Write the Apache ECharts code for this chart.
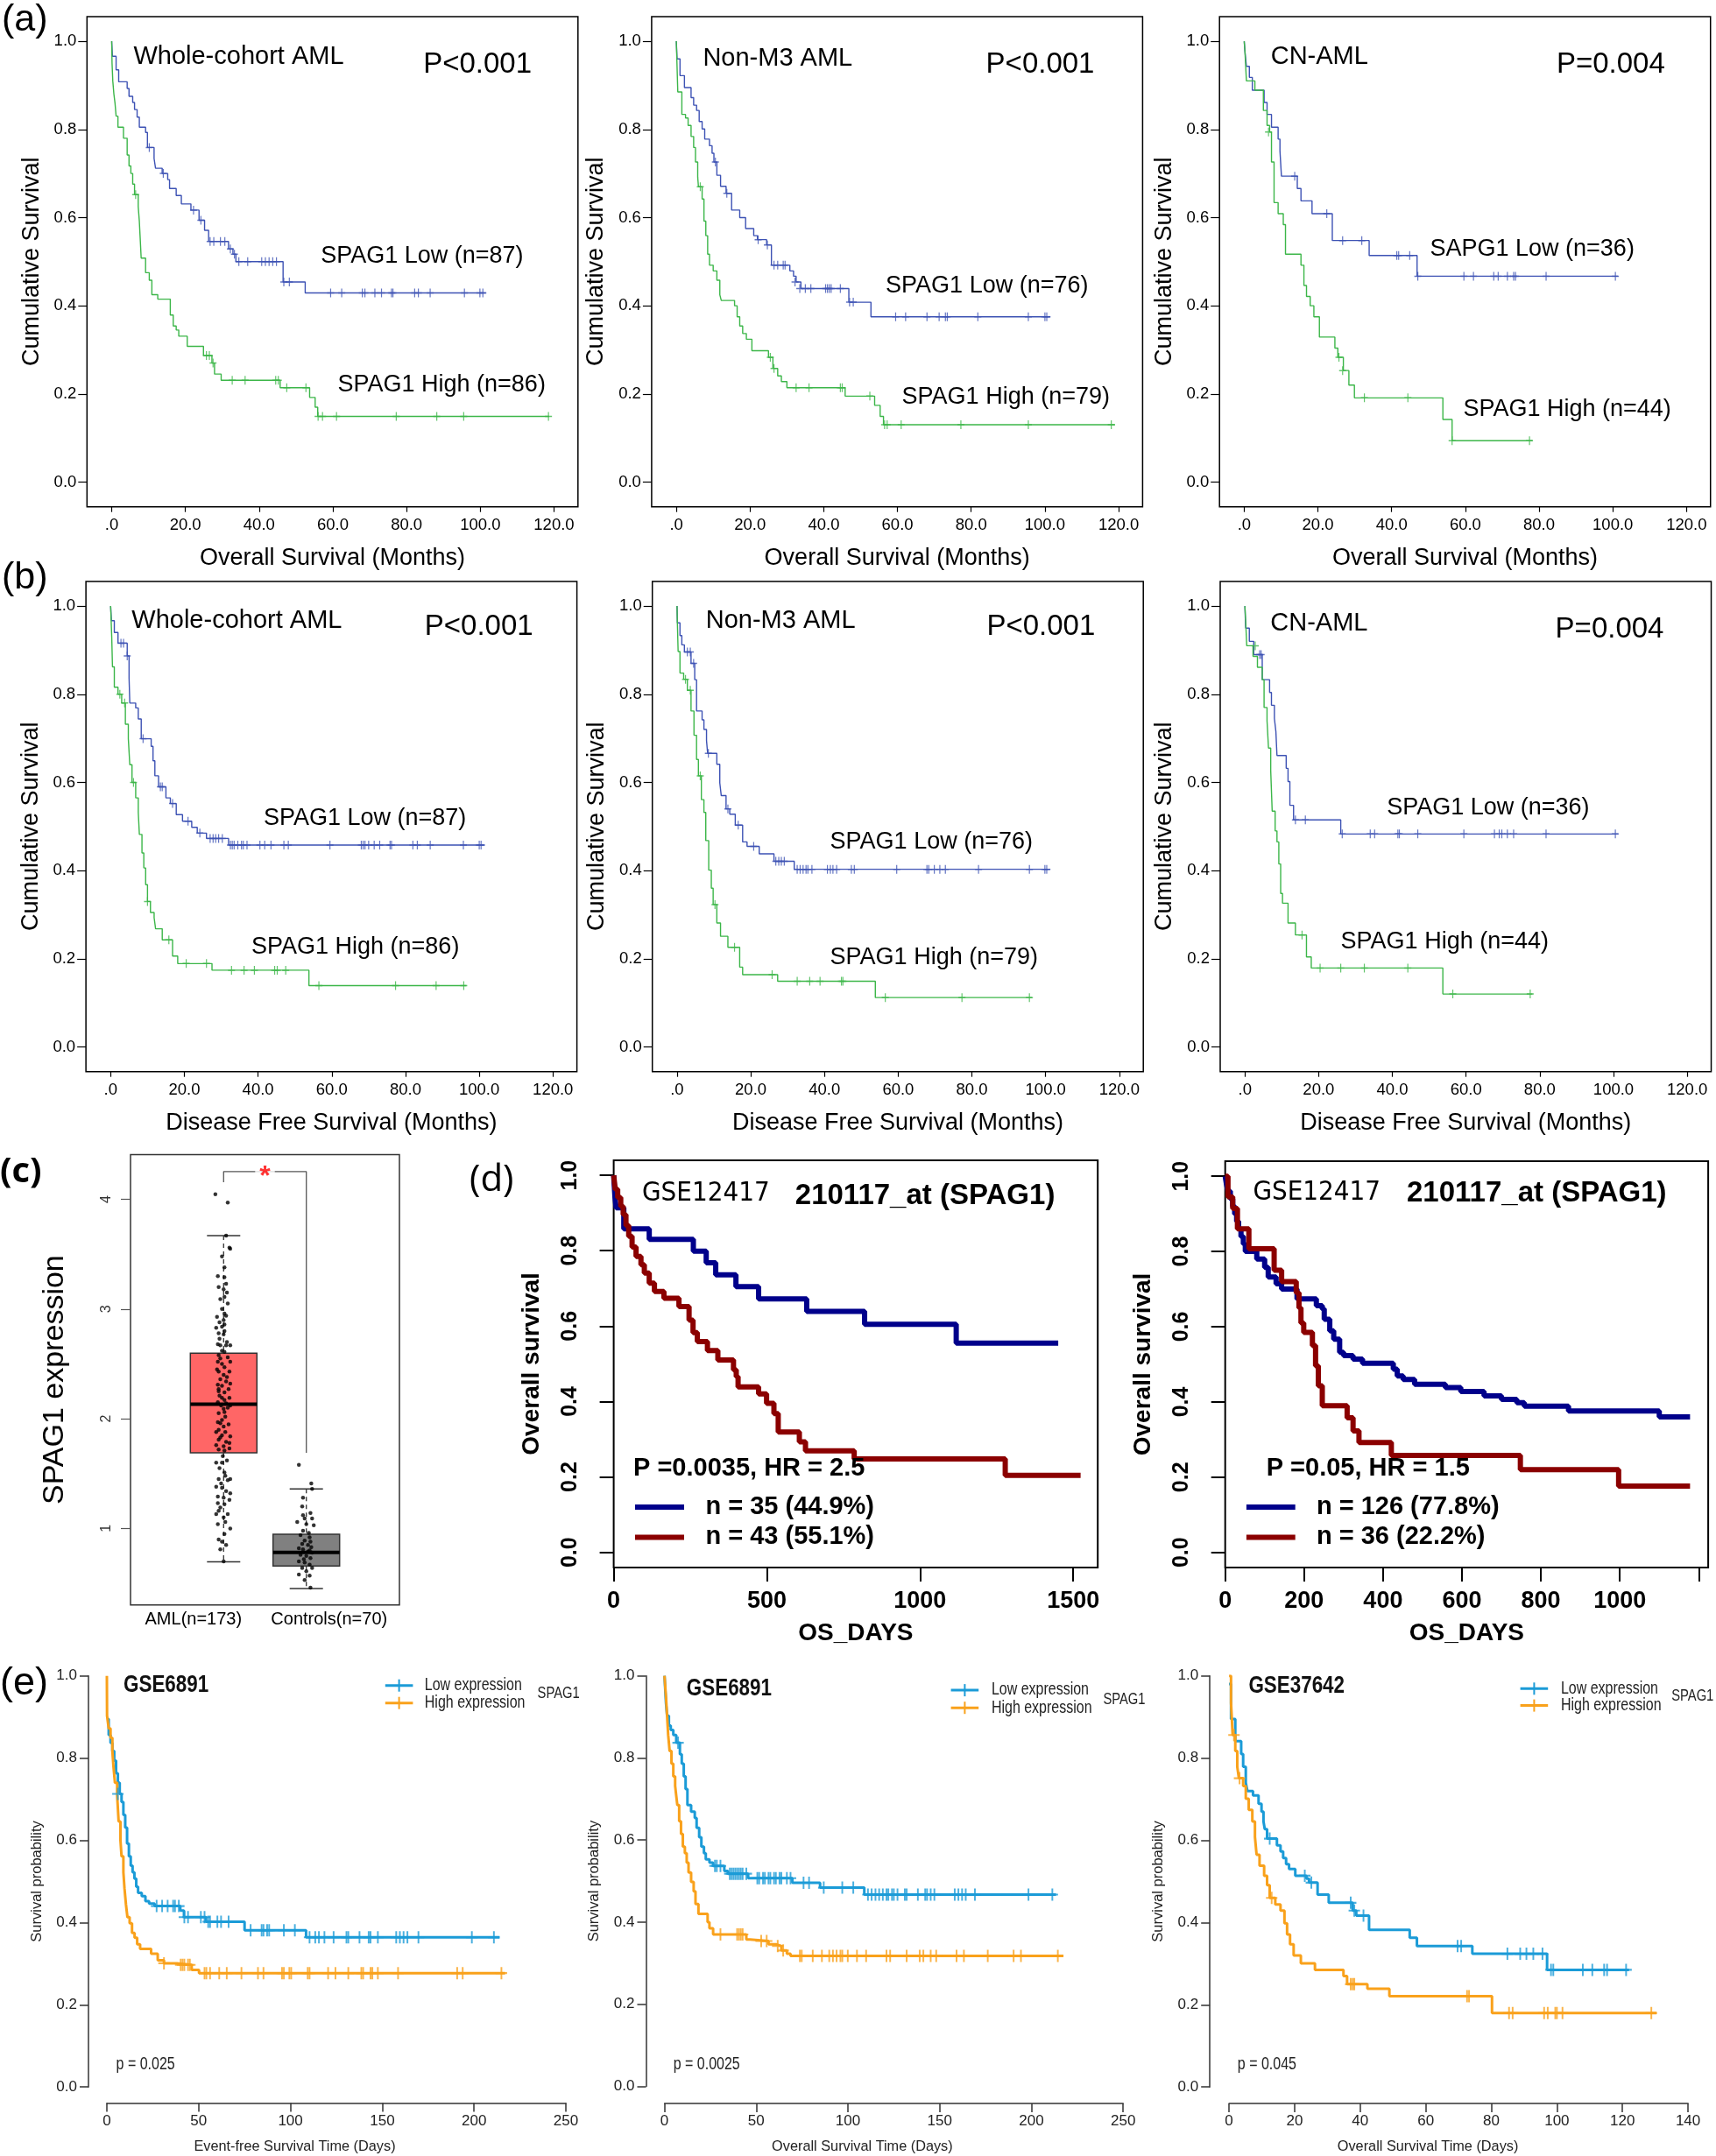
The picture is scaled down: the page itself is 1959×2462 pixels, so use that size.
<!DOCTYPE html>
<html><head><meta charset="utf-8">
<script src="https://cdn.jsdelivr.net/npm/echarts@6.0.0/dist/echarts.min.js"></script>
<style>html,body{margin:0;padding:0;background:#fff}#c{width:1959px;height:2462px}</style>
</head><body><div id="c"></div>
<script>
// ---------------- DATA ----------------
const spssXTicks = [0,20,40,60,80,100,120];
const survYTicks = [0,0.2,0.4,0.6,0.8,1.0];
const dLeftXTicks = [0,500,1000,1500];
const dRightXTicks = [0,200,400,600,800,1000,1200];
const dRightXLabels = [0,200,400,600,800,1000];
const boxYTicks = [1,2,3,4];

// (a) Overall survival, months
const a1Low = [[0,1],[0.2,0.966],[1.2,0.935],[1.9,0.908],[4.2,0.893],[4.7,0.875],[5.7,0.861],[6.2,0.845],[6.9,0.828],[7.5,0.805],[9.2,0.793],[9.7,0.759],[11.5,0.734],[11.9,0.712],[13.7,0.70],[15.2,0.686],[15.7,0.666],[17.5,0.65],[18.9,0.631],[21.5,0.617],[23.7,0.594],[25.2,0.571],[26.3,0.546],[31.7,0.529],[32.9,0.517],[33.7,0.50],[46.5,0.454],[52.5,0.429],[101.5,0.429]];
const a1LowCens = [[10.2,0.759],[14.0,0.70],[22.2,0.617],[24.2,0.594],[26.7,0.546],[27.7,0.546],[29.5,0.546],[30.7,0.546],[32.2,0.529],[33.3,0.517],[34.5,0.50],[36.9,0.50],[40.7,0.50],[41.7,0.50],[42.7,0.50],[43.7,0.50],[44.7,0.50],[46.7,0.454],[48.2,0.454],[59.4,0.429],[62.4,0.429],[68,0.429],[68.7,0.429],[71.4,0.429],[73.2,0.429],[75.9,0.429],[76.3,0.429],[82.2,0.429],[83.2,0.429],[86.4,0.429],[95.7,0.429],[99.9,0.429],[100.7,0.429]];
const a1High = [[0,1],[0.1,0.95],[0.3,0.91],[0.6,0.88],[0.9,0.86],[1.2,0.83],[1.7,0.805],[3.2,0.78],[4.2,0.742],[4.7,0.717],[5.2,0.70],[5.7,0.676],[6.2,0.652],[7.2,0.625],[7.5,0.592],[7.7,0.559],[8.0,0.508],[9.2,0.475],[10.2,0.458],[10.9,0.425],[12.5,0.415],[15.9,0.379],[16.7,0.354],[17.5,0.345],[18.2,0.331],[20.5,0.308],[24.9,0.287],[27.2,0.27],[27.9,0.245],[29.7,0.231],[45.7,0.214],[53.7,0.192],[55.2,0.17],[55.9,0.149],[118.7,0.149]];
const a1HighCens = [[6.5,0.652],[25.7,0.287],[26.5,0.287],[27.5,0.27],[32.7,0.231],[36.2,0.231],[44.5,0.231],[45.2,0.231],[47.5,0.214],[52.7,0.214],[56.0,0.149],[57.2,0.149],[61.0,0.149],[77.2,0.149],[88.2,0.149],[95.5,0.149],[118.5,0.149]];

const a2Low = [[0,1],[0.2,0.96],[1.0,0.922],[2.2,0.895],[4.0,0.872],[4.7,0.855],[5.5,0.843],[6.2,0.818],[7.0,0.801],[7.7,0.778],[9.0,0.763],[9.7,0.746],[10.2,0.726],[11.0,0.696],[12.0,0.671],[13.5,0.655],[15.0,0.617],[17.2,0.60],[18.8,0.575],[21.0,0.559],[22.0,0.55],[24.5,0.538],[25.8,0.492],[30.8,0.479],[31.8,0.467],[32.5,0.454],[33.8,0.439],[46.8,0.408],[52.8,0.375],[101.5,0.375]];
const a2LowCens = [[10.6,0.726],[13.7,0.655],[22.2,0.55],[24.7,0.538],[26.5,0.492],[27.5,0.492],[29,0.492],[29.5,0.492],[32.2,0.454],[33.5,0.439],[35,0.439],[36.5,0.439],[40.5,0.439],[41,0.439],[41.5,0.439],[42,0.439],[44.5,0.439],[47,0.408],[48,0.408],[59.5,0.375],[62.2,0.375],[68,0.375],[71.3,0.375],[73,0.375],[73.5,0.375],[81.8,0.375],[95.5,0.375],[100,0.375],[100.5,0.375]];
const a2High = [[0,1],[0.4,0.885],[1.5,0.834],[2.5,0.826],[3.2,0.809],[4.0,0.784],[4.7,0.759],[5.2,0.726],[5.8,0.692],[6.0,0.67],[7.0,0.642],[7.5,0.592],[8.0,0.559],[8.5,0.517],[9.0,0.492],[10.0,0.479],[11.0,0.458],[11.8,0.425],[12.2,0.412],[15.8,0.40],[16.5,0.375],[17.2,0.354],[18.0,0.337],[19.0,0.324],[20.5,0.298],[25.0,0.283],[26.2,0.258],[27.5,0.241],[28.5,0.228],[30.0,0.214],[45.8,0.195],[53.8,0.174],[55.3,0.149],[56.2,0.13],[119,0.13]];
const a2HighCens = [[6.5,0.67],[25.5,0.283],[26.5,0.258],[32.5,0.214],[36,0.214],[44.5,0.214],[45,0.214],[52.5,0.195],[56.5,0.13],[57.2,0.13],[61,0.13],[77.2,0.13],[95.5,0.13],[118,0.13]];

const a3Low = [[0,1],[0.2,0.977],[0.6,0.943],[1.4,0.918],[2.2,0.889],[5.4,0.861],[6.2,0.834],[7.4,0.805],[9.2,0.778],[9.7,0.751],[10.1,0.694],[14.4,0.666],[15.4,0.638],[18.4,0.609],[23.9,0.548],[33.9,0.514],[46.9,0.467],[101.4,0.467]];
const a3LowCens = [[13.7,0.694],[22.4,0.609],[26.7,0.548],[31.9,0.548],[41.4,0.514],[41.9,0.514],[44.9,0.514],[47.1,0.467],[59.6,0.467],[62.2,0.467],[67.7,0.467],[68.9,0.467],[71.4,0.467],[73.1,0.467],[73.6,0.467],[81.9,0.467],[100.7,0.467]];
const a3High = [[0,1],[0.2,0.977],[0.6,0.91],[2.9,0.889],[5.2,0.843],[6.2,0.809],[6.9,0.794],[7.4,0.726],[8.1,0.634],[9.2,0.609],[10.6,0.584],[11.2,0.517],[15.4,0.492],[16.2,0.446],[16.9,0.421],[17.9,0.40],[18.9,0.375],[20.4,0.329],[24.6,0.304],[25.4,0.283],[26.9,0.253],[28.4,0.22],[29.9,0.191],[53.9,0.142],[56.4,0.094],[78.2,0.094]];
const a3HighCens = [[6.6,0.794],[25.7,0.283],[26.7,0.253],[32.6,0.191],[44.4,0.191],[56.4,0.094],[77.4,0.094]];

// (b) Disease free survival, months
const b1Low = [[0,1],[0.2,0.967],[1.0,0.94],[2.0,0.916],[4.5,0.887],[5.0,0.837],[5.2,0.78],[6.8,0.769],[7.5,0.744],[8.3,0.699],[11.0,0.682],[11.5,0.649],[12.0,0.615],[13.0,0.59],[15.0,0.565],[16.2,0.552],[17.8,0.527],[19.5,0.512],[22.0,0.498],[23.5,0.485],[26.0,0.473],[32.0,0.458],[101.5,0.458]];
const b1LowCens = [[2.8,0.916],[3.5,0.916],[4.5,0.887],[8.8,0.699],[13.5,0.59],[14.0,0.59],[16.8,0.552],[21.0,0.512],[24.2,0.485],[27,0.473],[27.8,0.473],[28.5,0.473],[29.3,0.473],[30.3,0.473],[32.5,0.458],[33,0.458],[33.5,0.458],[34.5,0.458],[35.5,0.458],[36,0.458],[37,0.458],[40.5,0.458],[41.8,0.458],[43.5,0.458],[47,0.458],[48.2,0.458],[59.5,0.458],[68,0.458],[68.5,0.458],[69,0.458],[70,0.458],[71.5,0.458],[73,0.458],[75.8,0.458],[76.2,0.458],[82,0.458],[83.2,0.458],[86.7,0.458],[95.7,0.458],[100,0.458],[100.5,0.458]];
const b1High = [[0,1],[0.3,0.93],[0.5,0.862],[1.0,0.816],[2.0,0.80],[3.0,0.78],[4.0,0.732],[4.8,0.699],[5.2,0.64],[5.8,0.60],[6.8,0.565],[7.5,0.532],[7.8,0.482],[8.5,0.44],[9.0,0.406],[9.5,0.368],[10.0,0.33],[10.8,0.305],[11.8,0.293],[12.2,0.268],[14.0,0.243],[16.8,0.206],[18.2,0.189],[27.5,0.174],[53.8,0.139],[96.5,0.139]];
const b1HighCens = [[2.5,0.80],[3.8,0.78],[6.2,0.60],[10.0,0.33],[15.8,0.243],[20.5,0.189],[26.0,0.189],[32.8,0.174],[36.2,0.174],[39.0,0.174],[44.5,0.174],[45.2,0.174],[47.5,0.174],[56.5,0.139],[77.3,0.139],[88.3,0.139],[95.8,0.139]];

const b2Low = [[0,1],[0.1,0.962],[0.8,0.933],[1.3,0.912],[2.0,0.896],[3.8,0.87],[4.8,0.833],[5.3,0.762],[6.8,0.742],[7.3,0.72],[8.0,0.695],[8.3,0.666],[10.8,0.641],[11.6,0.599],[12.0,0.57],[13.3,0.54],[14.3,0.528],[15.8,0.503],[17.8,0.465],[19.0,0.455],[22.3,0.438],[26.3,0.421],[31.8,0.403],[101.3,0.403]];
const b2LowCens = [[2.8,0.896],[3.6,0.896],[4.5,0.87],[8.5,0.666],[13.8,0.54],[16.6,0.503],[20.8,0.455],[26.8,0.421],[27.6,0.421],[28.3,0.421],[29.1,0.421],[32.6,0.403],[33.4,0.403],[34.2,0.403],[35,0.403],[35.5,0.403],[36.6,0.403],[40.8,0.403],[41.6,0.403],[42.3,0.403],[43.3,0.403],[47.3,0.403],[48.1,0.403],[59.6,0.403],[67.8,0.403],[68.3,0.403],[69.8,0.403],[71.3,0.403],[72.8,0.403],[81.8,0.403],[95.6,0.403],[99.8,0.403],[100.3,0.403]];
const b2High = [[0,1],[0.1,0.96],[0.3,0.897],[0.8,0.848],[1.8,0.834],[2.8,0.809],[3.8,0.762],[4.6,0.707],[5.3,0.652],[5.8,0.615],[6.6,0.561],[7.3,0.532],[7.8,0.468],[8.6,0.401],[9.3,0.36],[9.8,0.323],[10.8,0.281],[11.8,0.251],[13.8,0.226],[17.0,0.181],[17.8,0.164],[27.3,0.149],[53.8,0.112],[96.3,0.112]];
const b2HighCens = [[2.3,0.834],[3.6,0.809],[6.3,0.615],[10.3,0.323],[15.6,0.226],[25.8,0.164],[32.6,0.149],[36,0.149],[38.8,0.149],[44.6,0.149],[45,0.149],[56.5,0.112],[77.3,0.112],[95.6,0.112]];

const b3Low = [[0,1],[0.2,0.95],[1.2,0.92],[2.4,0.89],[4.7,0.833],[6.7,0.804],[7.2,0.775],[8.0,0.745],[8.4,0.716],[8.7,0.661],[11.2,0.632],[11.7,0.602],[12.2,0.548],[13.2,0.515],[26.0,0.483],[101.2,0.483]];
const b3LowCens = [[4.0,0.89],[4.4,0.89],[13.7,0.515],[16.4,0.515],[26.4,0.483],[34,0.483],[35.2,0.483],[41.5,0.483],[41.9,0.483],[46.9,0.483],[59.4,0.483],[67.7,0.483],[69,0.483],[69.7,0.483],[71.2,0.483],[72.9,0.483],[81.7,0.483],[100.5,0.483]];
const b3High = [[0,1],[0.2,0.967],[0.5,0.91],[2.2,0.886],[3.4,0.861],[4.7,0.833],[5.2,0.77],[6.0,0.74],[6.4,0.678],[7.0,0.627],[7.4,0.535],[8.2,0.49],[8.7,0.465],[9.2,0.415],[9.7,0.348],[10.2,0.326],[11.7,0.281],[13.7,0.254],[16.7,0.204],[18.0,0.179],[53.7,0.12],[78,0.12]];
const b3HighCens = [[2.8,0.91],[15.5,0.254],[20.4,0.179],[26.0,0.179],[32.4,0.179],[44.2,0.179],[56.4,0.12],[77.4,0.12]];

// (c) SPAG1 expression boxplot: [min, q1, median, q3, max]
const boxGroups = ['AML(n=173)', 'Controls(n=70)'];
const boxStats = [[0.696,1.69,2.133,2.597,3.669],[0.453,0.658,0.781,0.947,1.36]];
// points: [jitter offset, expression]
const amlPoints = [[-0.10,4.047],[0.05,3.97],[0.03,3.67],[0.07,3.56],[0.08,3.55],[-0.02,3.48],[0.01,3.29],[-0.07,3.30],[0.03,3.23],[-0.06,3.20],[0.00,3.18],[0.01,3.11],[-0.04,3.09],[0.05,3.05],[-0.02,3.00],[-0.08,2.93],[0.01,2.96],[0.03,2.94],[0.00,2.90],[-0.09,2.83],[-0.02,2.84],[0.01,2.86],[-0.06,2.78],[0.00,2.77],[0.01,2.80],[-0.07,2.68],[-0.04,2.67],[0.03,2.67],[0.08,2.67],[-0.02,2.62],[0.01,2.61],[-0.06,2.58],[-0.07,2.52],[-0.02,2.50],[0.08,2.52],[0.01,2.47],[-0.06,2.43],[0.07,2.43],[0.00,2.40],[-0.04,2.36],[0.03,2.34],[-0.07,2.31],[-0.02,2.30],[0.08,2.32],[-0.06,2.25],[0.01,2.24],[-0.02,2.19],[0.07,2.19],[-0.07,2.15],[0.03,2.14],[0.08,2.12],[0.00,2.09],[0.01,2.06],[-0.07,1.97],[-0.04,1.96],[0.00,1.93],[-0.09,1.88],[-0.02,1.85],[0.08,1.84],[-0.06,1.81],[0.03,1.79],[-0.09,1.76],[0.00,1.75],[0.07,1.78],[0.01,1.71],[-0.02,1.60],[-0.09,1.60],[0.01,1.51],[-0.06,1.45],[0.05,1.44],[0.08,1.45],[-0.09,1.38],[-0.02,1.37],[0.03,1.34],[0.08,1.32],[-0.07,1.29],[0.00,1.28],[-0.07,1.23],[0.01,1.22],[-0.04,1.19],[0.05,1.13],[-0.09,1.13],[0.00,1.10],[-0.07,1.04],[0.08,1.00],[-0.02,0.88],[0.03,0.85],[-0.04,0.81],[0.00,0.70],[-0.04,2.55],[0.05,2.56],[-0.08,2.45],[0.04,2.38],[-0.06,2.27],[0.06,2.27],[-0.05,2.21],[0.01,2.17],[-0.03,2.12],[0.05,2.10],[-0.06,2.05],[0.02,2.02],[-0.02,1.99],[0.06,1.95],[-0.06,1.90],[0.02,1.88],[-0.04,1.83],[0.07,1.73],[-0.06,1.72],[-0.01,1.66],[0.04,1.62],[-0.05,1.55],[0.02,1.48],[-0.03,1.41],[0.07,1.26],[-0.06,1.16],[0.02,1.06],[0.01,0.95],[-0.06,0.90],[0.04,2.70],[-0.05,2.73],[0.01,3.38],[0.04,3.15],[-0.05,2.88]];
const ctrlPoints = [[-0.09,1.58],[0.06,1.41],[0.07,1.36],[-0.04,1.28],[-0.05,1.20],[0.05,1.14],[-0.02,1.09],[0.07,1.09],[-0.11,1.06],[0.00,1.04],[0.09,1.03],[-0.04,0.98],[-0.07,0.94],[0.04,0.92],[-0.02,0.89],[0.05,0.88],[0.02,0.85],[-0.09,0.82],[-0.04,0.81],[0.04,0.80],[0.07,0.78],[-0.07,0.76],[0.00,0.75],[0.05,0.73],[-0.09,0.70],[-0.02,0.69],[0.04,0.67],[-0.05,0.64],[0.07,0.64],[0.00,0.61],[-0.09,0.58],[0.04,0.57],[-0.02,0.53],[0.05,0.46],[0.02,0.79],[-0.05,0.86],[0.03,0.96],[-0.03,0.72],[0.06,0.83],[-0.04,1.12]];
const sigBracket = [[1,4.156],[1,4.254],[2,4.254],[2,1.69]];

// (d) GSE12417, OS days
const d1Low = [[0,1],[2,0.971],[4,0.943],[8,0.914],[33,0.858],[116,0.83],[260,0.799],[302,0.768],[333,0.736],[399,0.705],[473,0.672],[630,0.639],[819,0.605],[1118,0.555],[1451,0.555]];
const d1High = [[0,1],[5,0.963],[13,0.941],[23,0.918],[31,0.896],[40,0.867],[49,0.838],[60,0.81],[73,0.785],[89,0.763],[100,0.741],[116,0.714],[133,0.692],[164,0.674],[213,0.652],[246,0.616],[259,0.583],[273,0.559],[306,0.535],[340,0.51],[391,0.484],[400,0.466],[406,0.439],[473,0.42],[499,0.395],[523,0.368],[537,0.319],[606,0.293],[626,0.269],[785,0.248],[1278,0.204],[1524,0.204]];
const d2Low = [[0,1],[3,0.98],[7,0.96],[13,0.94],[19,0.92],[24,0.90],[29,0.88],[34,0.86],[40,0.84],[46,0.82],[51,0.80],[80,0.78],[100,0.758],[109,0.732],[129,0.714],[143,0.70],[182,0.674],[231,0.656],[246,0.647],[251,0.62],[265,0.589],[275,0.567],[290,0.532],[300,0.523],[324,0.514],[348,0.503],[426,0.487],[436,0.469],[451,0.46],[480,0.447],[558,0.438],[597,0.428],[656,0.416],[700,0.407],[739,0.398],[758,0.389],[870,0.376],[1100,0.36],[1178,0.36]];
const d2High = [[0,1],[7,0.945],[19,0.914],[31,0.86],[60,0.807],[124,0.75],[143,0.72],[180,0.69],[187,0.65],[192,0.61],[199,0.585],[221,0.55],[229,0.496],[236,0.443],[246,0.39],[309,0.358],[324,0.323],[339,0.292],[421,0.258],[748,0.22],[997,0.176],[1178,0.176]];

// (e) GSE6891 / GSE37642, days
const e1Low = [[0,0.895],[1,0.856],[2,0.837],[3,0.817],[4,0.794],[5,0.763],[6,0.74],[7,0.713],[8,0.693],[9,0.662],[10,0.631],[11,0.592],[12,0.561],[13,0.538],[14,0.522],[15,0.507],[16,0.487],[17,0.472],[19,0.464],[21,0.452],[23,0.446],[26,0.44],[40,0.429],[42,0.413],[54,0.402],[75,0.381],[108.5,0.364],[213.9,0.364]];
const e1LowCens = [[6,0.713],[27.1,0.44],[30.1,0.44],[33.1,0.44],[36.1,0.44],[37.1,0.44],[39.2,0.44],[42.2,0.413],[44.2,0.413],[51.2,0.413],[53.2,0.413],[55.2,0.402],[56.2,0.402],[60.2,0.402],[62.2,0.402],[66.3,0.402],[78.3,0.381],[84.3,0.381],[85.3,0.381],[87.3,0.381],[88.4,0.381],[96.4,0.381],[102.4,0.381],[110.4,0.364],[113.5,0.364],[115.5,0.364],[118.5,0.364],[123.5,0.364],[130.5,0.364],[131.5,0.364],[137.6,0.364],[142.6,0.364],[143.6,0.364],[147.6,0.364],[157.6,0.364],[159.6,0.364],[161.6,0.364],[163.7,0.364],[169.7,0.364],[198.8,0.364],[210.8,0.364]];
const e1High = [[0,1],[0.1,0.903],[1,0.872],[2,0.849],[3,0.817],[3.6,0.779],[4.4,0.74],[5.6,0.709],[6.4,0.646],[7.4,0.6],[8,0.561],[9,0.522],[9.6,0.483],[10.4,0.444],[11.2,0.413],[12.4,0.398],[13.7,0.375],[15.1,0.363],[16.5,0.347],[18.1,0.336],[24.1,0.324],[27.7,0.308],[31.1,0.301],[38.2,0.297],[46.2,0.285],[50.2,0.277],[216.9,0.277]];
const e1HighCens = [[31.1,0.301],[40.2,0.297],[41.2,0.297],[42.2,0.297],[44.2,0.297],[45.2,0.297],[53.2,0.277],[54.2,0.277],[56.2,0.277],[61.2,0.277],[65.3,0.277],[73.3,0.277],[82.3,0.277],[85.3,0.277],[95.4,0.277],[96.4,0.277],[99.4,0.277],[100.4,0.277],[109.4,0.277],[110.4,0.277],[120.5,0.277],[124.5,0.277],[131.5,0.277],[138.6,0.277],[139.6,0.277],[143.6,0.277],[144.6,0.277],[147.6,0.277],[158.6,0.277],[190.8,0.277],[193.8,0.277],[214.9,0.277]];

const e2Low = [[0,1],[0.8,0.934],[1.4,0.903],[2.4,0.879],[3.4,0.868],[4.8,0.856],[6.4,0.837],[8.4,0.809],[9.4,0.786],[10.5,0.755],[11.5,0.724],[12.5,0.685],[14.5,0.669],[16.5,0.654],[17.5,0.63],[18.9,0.607],[20.1,0.584],[21.5,0.568],[22.5,0.553],[24.5,0.545],[26.5,0.537],[32.6,0.525],[34.6,0.518],[45.6,0.507],[69.7,0.496],[84.8,0.484],[108.9,0.467],[213.4,0.467]];
const e2LowCens = [[7.4,0.837],[27.5,0.537],[28.5,0.537],[30.5,0.537],[35.6,0.518],[36.6,0.518],[37.6,0.518],[38.6,0.518],[39.6,0.518],[40.6,0.518],[41.6,0.518],[42.6,0.518],[44.6,0.518],[50.6,0.507],[51.6,0.507],[53.7,0.507],[54.7,0.507],[56.7,0.507],[57.7,0.507],[59.7,0.507],[60.7,0.507],[62.7,0.507],[63.7,0.507],[66.7,0.507],[68.7,0.507],[75.8,0.496],[78.8,0.496],[86.8,0.484],[96.9,0.484],[102.9,0.484],[110.9,0.467],[112.9,0.467],[115,0.467],[117,0.467],[119,0.467],[121,0.467],[122,0.467],[124,0.467],[125,0.467],[127,0.467],[131,0.467],[132,0.467],[138.1,0.467],[142.1,0.467],[143.1,0.467],[145.1,0.467],[147.1,0.467],[158.2,0.467],[160.2,0.467],[162.2,0.467],[164.2,0.467],[169.2,0.467],[198.4,0.467],[211.4,0.467]];
const e2High = [[0,1],[0.8,0.949],[1.4,0.903],[2,0.856],[2.8,0.817],[3.8,0.786],[4.8,0.755],[5.8,0.732],[6.4,0.708],[7,0.685],[8,0.646],[9,0.615],[10,0.584],[11.1,0.568],[12.1,0.545],[13.1,0.521],[14.5,0.498],[15.9,0.475],[16.9,0.444],[18.5,0.42],[23.5,0.40],[24.5,0.385],[26.5,0.37],[44.6,0.358],[46.6,0.354],[56.7,0.346],[60.7,0.342],[63.7,0.331],[66.7,0.323],[68.7,0.318],[217.4,0.318]];
const e2HighCens = [[30.5,0.37],[39.6,0.37],[40.6,0.37],[41.6,0.37],[42.6,0.37],[52.7,0.354],[55.7,0.354],[61.7,0.342],[64.7,0.331],[73.8,0.318],[74.8,0.318],[80.8,0.318],[85.8,0.318],[89.8,0.318],[91.8,0.318],[93.8,0.318],[95.9,0.318],[96.9,0.318],[99.9,0.318],[104.9,0.318],[109.9,0.318],[121,0.318],[123,0.318],[132,0.318],[139.1,0.318],[141.1,0.318],[145.1,0.318],[148.1,0.318],[159.2,0.318],[163.2,0.318],[176.2,0.318],[190.3,0.318],[194.3,0.318],[214.4,0.318]];

const e3Low = [[0,0.98],[0.6,0.895],[1.9,0.841],[3.7,0.81],[4.3,0.779],[5.1,0.74],[5.6,0.72],[7.3,0.709],[9.0,0.689],[9.9,0.67],[10.5,0.646],[10.9,0.627],[11.6,0.604],[14.6,0.588],[15.7,0.573],[16.5,0.557],[17.4,0.542],[18.3,0.53],[20.2,0.514],[23.6,0.507],[24.4,0.497],[27,0.468],[30.4,0.448],[37.7,0.429],[38.8,0.417],[42.7,0.382],[55.1,0.363],[57.3,0.343],[74.2,0.324],[97,0.285],[122,0.285]];
const e3LowCens = [[12.4,0.604],[23.1,0.514],[25.1,0.497],[37.1,0.448],[38.2,0.429],[41,0.417],[69.7,0.343],[70.8,0.343],[84.9,0.324],[88.8,0.324],[90.7,0.324],[92.8,0.324],[95.6,0.324],[98.2,0.285],[98.9,0.285],[107.9,0.285],[110.8,0.285],[114.4,0.285],[115.3,0.285],[121.1,0.285]];
const e3High = [[0,1],[0.6,0.934],[1.1,0.856],[1.9,0.817],[2.5,0.779],[3,0.751],[4.3,0.732],[5.1,0.701],[6,0.674],[7.1,0.646],[7.9,0.608],[8.4,0.565],[9.3,0.538],[10.7,0.514],[11.6,0.491],[12.4,0.46],[14.1,0.444],[15.7,0.429],[16.9,0.398],[17.7,0.371],[18.6,0.347],[19.7,0.32],[21.9,0.301],[26.2,0.285],[34.9,0.27],[36,0.25],[42.2,0.239],[48.9,0.221],[80.2,0.18],[130.4,0.18]];
const e3HighCens = [[1.5,0.856],[3.2,0.751],[13,0.46],[37.1,0.25],[37.7,0.25],[38.2,0.25],[72.6,0.221],[73.2,0.221],[85.4,0.18],[86.5,0.18],[96.1,0.18],[97.2,0.18],[99.5,0.18],[100,0.18],[101.7,0.18],[128.8,0.18]];

// ---------------- STYLE ----------------
const ARIAL = "'Liberation Sans', Arial, Helvetica, sans-serif";
const NARROW = "'Liberation Sans Narrow', 'Arial Narrow', 'DejaVu Sans Condensed', sans-serif";
const OPEN = "'Open Sans', 'Noto Sans', sans-serif";
const SPSS_BLUE = '#3d52b4', SPSS_GREEN = '#3cb649';
const D_BLUE = '#00008b', D_RED = '#8b0000';
const E_BLUE = '#1b9bd7', E_ORANGE = '#f9a11b';
const CROSS = 'path://M8.5,0L11.5,0L11.5,8.5L20,8.5L20,11.5L11.5,11.5L11.5,20L8.5,20L8.5,11.5L0,11.5L0,8.5L8.5,8.5Z';

const grids = [], xAxes = [], yAxes = [], series = [], graphics = [];

function addGrid(g, xa, ya) {
  const i = grids.length;
  grids.push(g); xa.gridIndex = i; ya.gridIndex = i; xAxes.push(xa); yAxes.push(ya);
  return i;
}
function km(gi, steps, cens, color, width, csize) {
  series.push({type:'line', xAxisIndex:gi, yAxisIndex:gi, data:steps, step:'end', symbol:'none', silent:true,
    lineStyle:{color:color, width:width}, z:3});
  if (cens) series.push({type:'scatter', xAxisIndex:gi, yAxisIndex:gi, data:cens, symbol:CROSS, symbolSize:csize,
    symbolKeepAspect:false, itemStyle:{color:color}, silent:true, z:4});
}
function txt(x, y, text, size, family, weight, color, sx) {
  graphics.push({type:'text', x:x, y:y, scaleX:sx || 1, silent:true, z:10, style:{text:text, fontSize:size, fontFamily:family,
    fontWeight:weight || 'normal', fill:color || '#000', align:'left', verticalAlign:'middle'}});
}
function gline(x1, y1, x2, y2, color, w) {
  graphics.push({type:'line', silent:true, z:10, shape:{x1:x1,y1:y1,x2:x2,y2:y2}, style:{stroke:color, lineWidth:w}});
}

// ---------------- (a)/(b) SPSS panels ----------------
function spss(x0, top, low, lowC, high, highC, xName) {
  const k = 4.208;
  const gi = addGrid(
    {left:x0 - 6.7*k, top:top, width:133.2*k, height:559.8, show:true, borderColor:'#000', borderWidth:1.5, backgroundColor:'rgba(0,0,0,0)'},
    {type:'value', min:-6.7, max:126.5, axisLine:{show:false, onZero:false}, splitLine:{show:false},
     axisTick:{show:true, customValues:spssXTicks, length:6, lineStyle:{color:'#000', width:1.2}},
     axisLabel:{customValues:spssXTicks, formatter:v => v === 0 ? '.0' : v.toFixed(1), fontSize:18.5, fontFamily:ARIAL, color:'#000', margin:12},
     name:xName, nameLocation:'middle', nameGap:59, nameTextStyle:{fontSize:27, fontFamily:ARIAL, color:'#000', verticalAlign:'middle'}},
    {type:'value', min:-0.056, max:1.056, axisLine:{show:false, onZero:false}, splitLine:{show:false},
     axisTick:{show:true, customValues:survYTicks, length:10, lineStyle:{color:'#000', width:1.2}},
     axisLabel:{customValues:survYTicks, formatter:v => v.toFixed(1), fontSize:18.5, fontFamily:ARIAL, color:'#000', margin:12},
     name:'Cumulative Survival', nameLocation:'middle', nameGap:63, nameTextStyle:{fontSize:27, fontFamily:ARIAL, color:'#000', verticalAlign:'middle'}}
  );
  km(gi, low, lowC, SPSS_BLUE, 1.4, [8,10]);
  km(gi, high, highC, SPSS_GREEN, 1.4, [8,10]);
}
spss(127.5, 18.9, a1Low, a1LowCens, a1High, a1HighCens, 'Overall Survival (Months)');
spss(772.1, 18.9, a2Low, a2LowCens, a2High, a2HighCens, 'Overall Survival (Months)');
spss(1420.4, 18.9, a3Low, a3LowCens, a3High, a3HighCens, 'Overall Survival (Months)');
spss(126.3, 663.9, b1Low, b1LowCens, b1High, b1HighCens, 'Disease Free Survival (Months)');
spss(772.9, 663.9, b2Low, b2LowCens, b2High, b2HighCens, 'Disease Free Survival (Months)');
spss(1421.2, 663.9, b3Low, b3LowCens, b3High, b3HighCens, 'Disease Free Survival (Months)');

// annotations a/b
txt(2, 23, '(a)', 43, ARIAL);
txt(2, 660, '(b)', 43, ARIAL);
txt(152.4, 65.2, 'Whole-cohort AML', 29, ARIAL); txt(483.2, 73.7, 'P<0.001', 33, ARIAL);
txt(366.2, 292.5, 'SPAG1 Low (n=87)', 27, ARIAL); txt(385.5, 439.8, 'SPAG1 High (n=86)', 27, ARIAL);
txt(802.4, 67.3, 'Non-M3 AML', 29, ARIAL); txt(1125.6, 73.7, 'P<0.001', 33, ARIAL);
txt(1011.1, 326.2, 'SPAG1 Low (n=76)', 27, ARIAL); txt(1029.6, 453.7, 'SPAG1 High (n=79)', 27, ARIAL);
txt(1450.7, 65.2, 'CN-AML', 29, ARIAL); txt(1776.9, 73.7, 'P=0.004', 33, ARIAL);
txt(1632.5, 284.1, 'SAPG1 Low (n=36)', 27, ARIAL); txt(1670.4, 468, 'SPAG1 High (n=44)', 27, ARIAL);
txt(150.3, 708.9, 'Whole-cohort AML', 29, ARIAL); txt(484.8, 716.1, 'P<0.001', 33, ARIAL);
txt(300.9, 934.1, 'SPAG1 Low (n=87)', 27, ARIAL); txt(287, 1081.4, 'SPAG1 High (n=86)', 27, ARIAL);
txt(805.7, 708.9, 'Non-M3 AML', 29, ARIAL); txt(1126.4, 716.1, 'P<0.001', 33, ARIAL);
txt(947.6, 961.4, 'SPAG1 Low (n=76)', 27, ARIAL); txt(947.6, 1094, 'SPAG1 High (n=79)', 27, ARIAL);
txt(1450.3, 712.3, 'CN-AML', 29, ARIAL); txt(1775.6, 718.6, 'P=0.004', 33, ARIAL);
txt(1583.2, 922.7, 'SPAG1 Low (n=36)', 27, ARIAL); txt(1530.6, 1075.9, 'SPAG1 High (n=44)', 27, ARIAL);

// ---------------- (c) boxplot ----------------
const ci = addGrid(
  {left:149, top:1318.5, width:307, height:514.2, show:true, borderColor:'#333', borderWidth:1.5, backgroundColor:'rgba(0,0,0,0)'},
  {type:'value', min:-0.126, max:3.126, axisLine:{show:false, onZero:false}, axisTick:{show:false}, splitLine:{show:false},
   axisLabel:{customValues:[0.635, 2.276], formatter:v => v < 1.5 ? boxGroups[0] : boxGroups[1], fontSize:20, fontFamily:ARIAL, color:'#000', margin:7}},
  {type:'value', min:0.303, max:4.408, axisLine:{show:false, onZero:false}, splitLine:{show:false},
   axisTick:{show:true, customValues:boxYTicks, length:11, lineStyle:{color:'#555', width:1.2}},
   axisLabel:{customValues:boxYTicks, rotate:90, fontSize:16, fontFamily:ARIAL, color:'#333', margin:19},
   name:'SPAG1 expression', nameLocation:'middle', nameGap:86, nameTextStyle:{fontSize:34, fontFamily:ARIAL, color:'#000', verticalAlign:'middle'}}
);
series.push({type:'custom', xAxisIndex:ci, yAxisIndex:ci, silent:true, z:2,
  data: boxStats.map((s, i) => [i + 1].concat(s)),
  renderItem: function (params, api) {
    const x = api.value(0);
    const lo = api.coord([x, api.value(1)]), q1 = api.coord([x, api.value(2)]), md = api.coord([x, api.value(3)]),
          q3 = api.coord([x, api.value(4)]), hi = api.coord([x, api.value(5)]);
    const bw = api.size([0.805, 0])[0];
    const fill = params.dataIndex === 0 ? '#ff6666' : '#808080';
    const dash = {stroke:'#333', lineWidth:1.3, lineDash:[5,4]};
    const solid = {stroke:'#333', lineWidth:1.5};
    return {type:'group', children:[
      {type:'line', shape:{x1:hi[0], y1:hi[1], x2:q3[0], y2:q3[1]}, style:dash},
      {type:'line', shape:{x1:q1[0], y1:q1[1], x2:lo[0], y2:lo[1]}, style:dash},
      {type:'line', shape:{x1:hi[0]-bw/4, y1:hi[1], x2:hi[0]+bw/4, y2:hi[1]}, style:solid},
      {type:'line', shape:{x1:lo[0]-bw/4, y1:lo[1], x2:lo[0]+bw/4, y2:lo[1]}, style:solid},
      {type:'rect', shape:{x:q3[0]-bw/2, y:q3[1], width:bw, height:q1[1]-q3[1]}, style:{fill:fill, stroke:'#333', lineWidth:1.5}},
      {type:'line', shape:{x1:md[0]-bw/2, y1:md[1], x2:md[0]+bw/2, y2:md[1]}, style:{stroke:'#000', lineWidth:4}}
    ]};
  }
});
series.push({type:'scatter', xAxisIndex:ci, yAxisIndex:ci, silent:true, z:5, symbol:'circle', symbolSize:4.5, itemStyle:{color:'#000'},
  data: amlPoints.map(p => [1 + p[0], p[1]]).concat(ctrlPoints.map(p => [2 + p[0], p[1]]))});
series.push({type:'line', xAxisIndex:ci, yAxisIndex:ci, silent:true, z:3, symbol:'none', data:sigBracket,
  lineStyle:{color:'#555', width:1.3}});
series.push({type:'scatter', xAxisIndex:ci, yAxisIndex:ci, silent:true, z:6, symbolSize:0, data:[[1.5, 4.254]],
  label:{show:true, position:'inside', formatter:'*', color:'#ff0000', fontSize:32, fontWeight:'bold', fontFamily:ARIAL,
    backgroundColor:'#fff', padding:[0,5], offset:[0,6]}});
txt(0, 1339, '(c)', 40, OPEN, 'bold');

// ---------------- (d) KM plotter panels ----------------
function dPanel(left, top, w, h, xmax, xticks, xlabels, low, high) {
  const gi = addGrid(
    {left:left, top:top, width:w, height:h, show:true, borderColor:'#000', borderWidth:2, backgroundColor:'rgba(0,0,0,0)'},
    {type:'value', min:0, max:xmax, axisLine:{show:false, onZero:false}, splitLine:{show:false},
     axisTick:{show:true, customValues:xticks, length:16, lineStyle:{color:'#000', width:2}},
     axisLabel:{customValues:xlabels, formatter:v => String(v), fontSize:27, fontWeight:'bold', fontFamily:ARIAL, color:'#000', margin:25},
     name:'OS_DAYS', nameLocation:'middle', nameGap:75, nameTextStyle:{fontSize:28, fontWeight:'bold', fontFamily:ARIAL, color:'#000', verticalAlign:'middle'}},
    {type:'value', min:-0.04, max:1.04, axisLine:{show:false, onZero:false}, splitLine:{show:false},
     axisTick:{show:true, customValues:survYTicks, length:16, lineStyle:{color:'#000', width:2}},
     axisLabel:{customValues:survYTicks, rotate:90, formatter:v => v.toFixed(1), fontSize:25, fontWeight:'bold', fontFamily:ARIAL, color:'#000', margin:37},
     name:'Overall survival', nameLocation:'middle', nameGap:93, nameTextStyle:{fontSize:28, fontWeight:'bold', fontFamily:ARIAL, color:'#000', verticalAlign:'middle'}}
  );
  km(gi, low, null, D_BLUE, 6);
  km(gi, high, null, D_RED, 6);
}
dPanel(700.6, 1324.9, 552.6, 465, 1580, dLeftXTicks, dLeftXTicks, d1Low, d1High);
dPanel(1398.7, 1326, 551.4, 463.9, 1224, dRightXTicks, dRightXLabels, d2Low, d2High);
txt(536, 1348, '(d)', 42, OPEN);
txt(733, 1363, 'GSE12417', 31, NARROW);
txt(907.8, 1365.8, '210117_at (SPAG1)', 33, ARIAL, 'bold');
txt(723, 1677, 'P =0.0035, HR = 2.5', 29, ARIAL, 'bold');
gline(725, 1721, 781, 1721, D_BLUE, 6); gline(725, 1755.4, 781, 1755.4, D_RED, 6);
txt(805.4, 1721, 'n = 35 (44.9%)', 29, ARIAL, 'bold'); txt(805.4, 1755.4, 'n = 43 (55.1%)', 29, ARIAL, 'bold');
txt(1430.4, 1362, 'GSE12417', 31, NARROW);
txt(1606, 1363, '210117_at (SPAG1)', 33, ARIAL, 'bold');
txt(1445.7, 1677, 'P =0.05, HR = 1.5', 29, ARIAL, 'bold');
gline(1422.9, 1721, 1478.7, 1721, D_BLUE, 6); gline(1422.9, 1755.4, 1478.7, 1755.4, D_RED, 6);
txt(1502.9, 1721, 'n = 126 (77.8%)', 29, ARIAL, 'bold'); txt(1502.9, 1755.4, 'n = 36 (22.2%)', 29, ARIAL, 'bold');

// ---------------- (e) panels ----------------
function ePanel(left, top, w, h, xmax, xint, yOff, xOff, xName, namePad, low, lowC, high, highC) {
  const gi = addGrid(
    {left:left, top:top, width:w, height:h, show:false},
    {type:'value', min:0, max:xmax, interval:xint, offset:xOff, splitLine:{show:false},
     axisLine:{show:true, onZero:false, lineStyle:{color:'#333', width:1.5}},
     axisTick:{show:true, length:10, lineStyle:{color:'#333', width:1.5}},
     axisLabel:{fontSize:17, fontFamily:ARIAL, color:'#222', margin:12},
     name:xName, nameLocation:'middle', nameGap:50, nameTextStyle:{fontSize:16.3, fontFamily:ARIAL, color:'#222', verticalAlign:'middle', padding:[0, namePad, 0, 0]}},
    {type:'value', min:0, max:1, interval:0.2, offset:yOff, splitLine:{show:false},
     axisLine:{show:true, onZero:false, lineStyle:{color:'#333', width:1.5}},
     axisTick:{show:true, length:10, lineStyle:{color:'#333', width:1.5}},
     axisLabel:{formatter:v => v.toFixed(1), fontSize:17, fontFamily:ARIAL, color:'#222', margin:13},
     name:'Survival probability', nameLocation:'middle', nameGap:59, nameTextStyle:{fontSize:16.5, fontFamily:ARIAL, color:'#222', verticalAlign:'middle'}}
  );
  km(gi, low, lowC, E_BLUE, 3, [13,14]);
  km(gi, high, highC, E_ORANGE, 3, [13,14]);
}
ePanel(122, 1913.7, 524, 469.5, 250, 50, 21, 18.2, 'Event-free Survival Time (Days)', 95, e1Low, e1LowCens, e1High, e1HighCens);
ePanel(758.6, 1913.7, 523.6, 468.8, 250, 50, 21.1, 19.4, 'Overall Survival Time (Days)', 72, e2Low, e2LowCens, e2High, e2HighCens);
ePanel(1403.1, 1913.7, 524, 469.5, 140, 20, 21.9, 18.7, 'Overall Survival Time (Days)', 70, e3Low, e3LowCens, e3High, e3HighCens);
txt(0, 1923, '(e)', 45, ARIAL);
function eLegend(x1, x2, y1, y2, tx, sx, sy) {
  const cx = (x1 + x2) / 2;
  gline(x1, y1, x2, y1, E_BLUE, 3); gline(cx, y1 - 7, cx, y1 + 7, E_BLUE, 2);
  gline(x1, y2, x2, y2, E_ORANGE, 3); gline(cx, y2 - 7, cx, y2 + 7, E_ORANGE, 2);
  txt(tx, y1, 'Low expression', 19.5, ARIAL, 'normal', '#222', 0.82);
  txt(tx, y2, 'High expression', 19.5, ARIAL, 'normal', '#222', 0.82);
  txt(sx, sy, 'SPAG1', 18, ARIAL, 'normal', '#222', 0.82);
}
eLegend(439.8, 471.4, 1924.7, 1944.7, 484.8, 613.6, 1933.8);
eLegend(1085.6, 1117.2, 1930.1, 1950.2, 1131.9, 1259.4, 1941);
eLegend(1735.6, 1767.2, 1928.3, 1947.6, 1781.9, 1908.2, 1936.7);
txt(141, 1924.7, 'GSE6891', 27, ARIAL, 'bold', '#111', 0.83);
txt(783.8, 1928.3, 'GSE6891', 27, ARIAL, 'bold', '#111', 0.83);
txt(1425.4, 1925.8, 'GSE37642', 27, ARIAL, 'bold', '#111', 0.83);
txt(132.6, 2358, 'p = 0.025', 19.5, ARIAL, 'normal', '#222', 0.82);
txt(768.7, 2357.7, 'p = 0.0025', 19.5, ARIAL, 'normal', '#222', 0.82);
txt(1412.8, 2358, 'p = 0.045', 19.5, ARIAL, 'normal', '#222', 0.82);

const chart = echarts.init(document.getElementById('c'), null, {renderer:'canvas', width:1959, height:2462});
chart.setOption({
  animation:false, backgroundColor:'#fff',
  grid:grids, xAxis:xAxes, yAxis:yAxes, series:series, graphic:graphics
});
</script></body></html>
